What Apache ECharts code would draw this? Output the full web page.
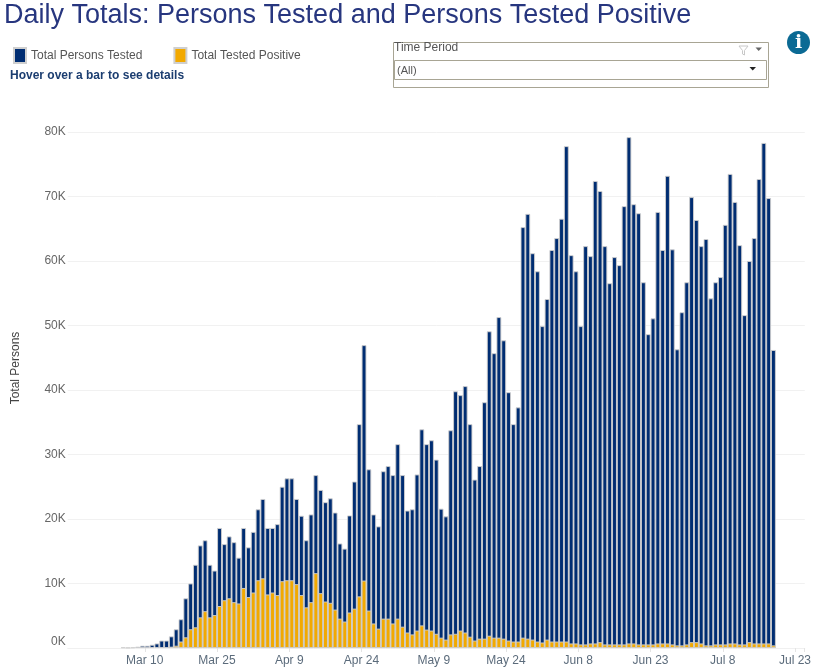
<!doctype html>
<html lang="en">
<head>
<meta charset="UTF-8">
<title>Daily Totals</title>
<script src="https://cdn.jsdelivr.net/npm/echarts@6/dist/echarts.min.js"></script>
<style>
    html, body { margin: 0; padding: 0; background: #fff; overflow: hidden; }
    #main { width: 814px; height: 672px; }
</style>
</head>
<body>
<div id="main"></div>
<script>
    // values are thousands of persons, one per day, first slot is Feb 23 2020
    var totalTested = [
        null, null, null, null, null, null, null, null, null, null, null,
        0.1, 0.05, 0.1, 0.2, 0.35, 0.35, 0.5, 0.7, 1.15, 1.15, 1.8, 2.9, 4.45, 7.7, 10.0,
        12.9, 15.9, 16.7, 12.9, 12.0, 18.6, 16.1, 17.3, 16.4, 14.0, 18.6, 15.6, 18.0, 21.5, 23.1,
        18.6, 18.6, 19.2, 25.0, 26.3, 26.3, 23.1, 20.5, 16.7, 20.7, 26.8, 24.5, 22.6, 23.2, 21.0,
        16.2, 15.4, 20.55, 25.8, 34.7, 46.95, 27.7, 20.7, 18.85, 27.4, 28.2, 26.8, 31.6, 26.8, 21.3,
        21.5, 26.9, 33.9, 31.6, 32.2, 29.2, 21.6, 20.4, 33.75, 39.8, 39.2, 40.6, 34.7, 26.1, 28.2,
        38.1, 49.1, 45.7, 51.3, 47.7, 39.65, 34.7, 37.3, 65.25, 67.3, 61.2, 58.4, 49.9, 54.1, 61.7,
        63.55, 66.55, 77.8, 60.9, 58.4, 49.9, 62.3, 60.75, 72.4, 70.85, 62.3, 56.55, 60.6, 59.35, 68.5,
        79.2, 68.8, 67.4, 56.7, 48.65, 51.1, 67.6, 61.7, 73.2, 61.8, 46.3, 52.05, 56.7, 69.9, 66.35,
        62.3, 63.4, 54.2, 56.7, 57.5, 65.6, 73.5, 69.15, 62.45, 51.6, 60.0, 63.55, 72.7, 78.3, 69.75, 46.2
    ];
    var totalPositive = [
        null, null, null, null, null, null, null, null, null, null, null,
        null, null, null, null, null, null, null, null, null, null,
        0.2, 0.35, 1.0, 1.65, 2.9, 3.2, 4.75, 5.7, 4.75, 5.1, 6.5, 7.4, 7.7, 7.1, 6.9,
        9.3, 7.9, 8.6, 10.5, 10.8, 8.3, 8.6, 8.2, 10.35, 10.5, 10.5, 9.9, 8.2, 6.3, 7.1,
        11.6, 8.5, 7.2, 7.0, 5.95, 4.55, 4.1, 5.5, 6.1, 8.0, 10.45, 5.8, 3.8, 3.0, 4.55,
        4.55, 3.8, 4.55, 3.3, 2.4, 2.1, 2.7, 3.5, 2.85, 2.7, 2.2, 1.6, 1.3, 2.1, 2.2,
        2.7, 2.4, 1.75, 1.15, 1.45, 1.45, 1.9, 1.6, 1.6, 1.45, 1.15, 1.0, 1.0, 1.6, 1.45,
        1.3, 1.0, 0.85, 1.3, 1.0, 1.0, 1.0, 1.0, 0.7, 0.7, 0.55, 0.55, 0.7, 0.7, 0.9,
        0.55, 0.55, 0.55, 0.55, 0.55, 0.7, 0.7, 0.55, 0.55, 0.55, 0.55, 0.7, 0.7, 0.7, 0.55,
        0.4, 0.4, 0.55, 0.9, 0.9, 0.7, 0.4, 0.4, 0.55, 0.55, 0.55, 0.7, 0.7, 0.55, 0.55,
        0.9, 0.7, 0.7, 0.7, 0.7, 0.4
    ];

    var monthNames = ['Jan', 'Feb', 'Mar', 'Apr', 'May', 'Jun', 'Jul'];
    var days = [];
    for (var i = 0; i < 153; i++) {
        var d = new Date(2020, 1, 23 + i);
        days.push(monthNames[d.getMonth()] + ' ' + d.getDate());
    }
    var yTicks = { max: 80, step: 10 };

    var navy = '#002d72';
    var gold = '#f2a900';
    var barEdge = '#cfcfcf';

    function everyFifteenDays(index) {
        return index > 1 && index % 15 === 1;
    }

    var myChart = echarts.init(document.getElementById('main'), null, { renderer: 'canvas' });
    var boxColor = '#a8a594';
    var option = {
        animation: false,
        textStyle: { fontFamily: '"Liberation Sans", Arial, sans-serif' },
        title: [
            {
                text: 'Daily Totals: Persons Tested and Persons Tested Positive',
                left: 4, top: 2, padding: 0,
                textStyle: { fontSize: 27, fontWeight: 'normal', color: '#27367f' }
            },
            {
                text: 'Hover over a bar to see details',
                left: 10, top: 70, padding: 0,
                textStyle: { fontSize: 12, fontWeight: 'bold', color: '#1b3d70' }
            }
        ],
        legend: {
            left: 13, top: 47, padding: 0,
            itemWidth: 12, itemHeight: 15, itemGap: 31,
            icon: 'rect',
            textStyle: { fontSize: 12, color: '#555555' },
            data: ['Total Persons Tested', 'Total Tested Positive']
        },
        grid: { left: 67.8, top: 132, width: 747.7, height: 516, containLabel: false },
        xAxis: {
            type: 'category',
            data: days,
            axisLine: { show: true, lineStyle: { color: '#f0f0f0', width: 1 } },
            axisTick: { show: true, length: 4, interval: everyFifteenDays, lineStyle: { color: '#e4e4e4' } },
            axisLabel: {
                interval: everyFifteenDays,
                fontSize: 12, color: '#5b6b7b', margin: 7,
                padding: [0, 5, 0, 0],
                hideOverlap: false
            },
            splitLine: { show: false }
        },
        yAxis: {
            type: 'value',
            min: 0, max: yTicks.max, interval: yTicks.step,
            axisLine: { show: false },
            axisTick: { show: false },
            axisLabel: {
                fontSize: 12, color: '#666666', margin: 2,
                verticalAlignMinLabel: 'bottom',
                formatter: function (v) { return v + 'K'; }
            },
            splitLine: { lineStyle: { color: '#f1f1f1', width: 1 } }
        },
        series: [
            {
                name: 'Total Persons Tested',
                type: 'bar',
                data: totalTested,
                barWidth: '100%',
                barGap: '-100%',
                itemStyle: { color: navy, borderColor: barEdge, borderWidth: 0.9 }
            },
            {
                name: 'Total Tested Positive',
                type: 'bar',
                data: totalPositive,
                barWidth: '100%',
                barGap: '-100%',
                itemStyle: { color: gold, borderColor: barEdge, borderWidth: 0.9 }
            }
        ],
        graphic: [
            // rotated axis title
            { type: 'text', x: 16, y: 368, rotation: Math.PI / 2,
              style: { text: 'Total Persons', fill: '#444444', font: '12px "Liberation Sans", Arial', align: 'center', verticalAlign: 'middle' } },
            // Time Period filter box
            { type: 'rect', shape: { x: 393.5, y: 42.5, width: 375, height: 45 }, style: { fill: '#fff', stroke: boxColor, lineWidth: 1 } },
            { type: 'rect', shape: { x: 394.5, y: 60.5, width: 372, height: 19 }, style: { fill: '#fff', stroke: boxColor, lineWidth: 1 } },
            { type: 'text', x: 394, y: 48, style: { text: 'Time Period', fill: '#555555', font: '12px "Liberation Sans", Arial', verticalAlign: 'middle' } },
            { type: 'text', x: 397, y: 71, style: { text: '(All)', fill: '#555555', font: '11px "Liberation Sans", Arial', verticalAlign: 'middle' } },
            { type: 'polygon', shape: { points: [[739, 46], [748, 46], [744.5, 50.5], [744.5, 55], [742.5, 54], [742.5, 50.5]] }, style: { fill: '#fff', stroke: '#c8c8c8', lineWidth: 1 } },
            { type: 'polygon', shape: { points: [[755.5, 47.5], [762, 47.5], [758.7, 51]] }, style: { fill: '#666666' } },
            { type: 'polygon', shape: { points: [[749.5, 67], [756, 67], [752.7, 70.5]] }, style: { fill: '#222222' } },
            // info icon
            { type: 'circle', shape: { cx: 798.5, cy: 42.5, r: 11.5 }, style: { fill: '#0b6a94' } },
            { type: 'text', x: 798.5, y: 43, style: { text: 'i', fill: '#ffffff', font: 'bold 19px "DejaVu Serif", serif', align: 'center', verticalAlign: 'middle' } }
        ]
    };
    myChart.setOption(option);
</script>
</body>
</html>
